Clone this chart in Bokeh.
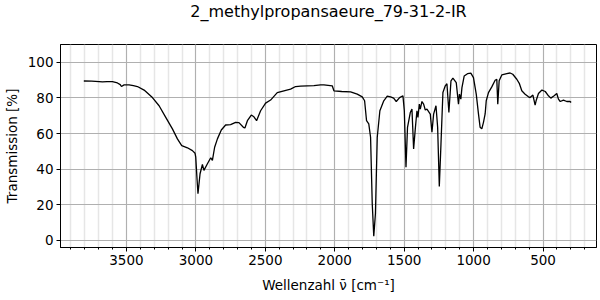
from bokeh.plotting import figure
from bokeh.models import Range1d, SingleIntervalTicker, FixedTicker, Title
from bokeh.embed import file_html
from bokeh.resources import INLINE

title_text = "2_methylpropansaeure_79-31-2-IR"
x_label = "Wellenzahl ν̄ [cm⁻¹]"
y_label = "Transmission [%]"

wavenumber = [3807, 3750, 3697, 3673, 3640, 3601, 3565, 3545, 3536, 3517, 3481, 3450, 3421, 3373,
              3313, 3265, 3217, 3169, 3133, 3102, 3061, 3025, 3006, 3001, 2993, 2985, 2970, 2953,
              2942, 2917, 2893, 2881, 2865, 2845, 2817, 2786, 2750, 2714, 2690, 2658, 2647, 2629,
              2601, 2582, 2563, 2534, 2498, 2462, 2414, 2366, 2318, 2282, 2246, 2198, 2150, 2102,
              2078, 2018, 2006, 1950, 1886, 1838, 1802, 1785, 1771, 1755, 1742, 1730, 1719, 1707,
              1694, 1675, 1647, 1622, 1598, 1576, 1557, 1533, 1509, 1499, 1487, 1476, 1456, 1444,
              1432, 1420, 1408, 1401, 1391, 1384, 1372, 1360, 1348, 1336, 1312, 1300, 1288, 1271,
              1259, 1247, 1235, 1221, 1204, 1192, 1178, 1163, 1149, 1125, 1109, 1102, 1092, 1084,
              1068, 1044, 1020, 1001, 981, 965, 953, 941, 929, 917, 909, 893, 869, 845, 833, 826,
              816, 797, 761, 737, 718, 689, 670, 653, 629, 605, 593, 573, 557, 550, 533, 508, 484,
              461, 444, 420, 401, 389, 376, 353, 329, 305, 298]
transmission = [89.5, 89.4, 89.2, 89.0, 89.2, 89.2, 88.4, 87.5, 86.4, 87.3, 87.3, 86.9, 86.4, 84.4,
                80.2, 75.6, 69.1, 62.6, 57.0, 53.2, 52.0, 50.4, 48.9, 46.7, 36.0, 26.2, 37.4, 42.6,
                39.3, 43.0, 46.4, 44.9, 52.3, 57.0, 62.0, 64.8, 65.0, 66.3, 66.1, 63.5, 63.1, 67.2,
                70.4, 69.4, 67.2, 72.8, 77.1, 78.8, 83.0, 84.0, 84.9, 86.4, 86.6, 86.8, 86.9, 87.3,
                87.3, 86.8, 84.0, 83.6, 83.4, 82.1, 80.6, 78.4, 67.2, 65.4, 57.9, 20.7, 2.4, 15.1,
                57.9, 72.8, 78.4, 81.0, 80.6, 79.9, 78.0, 80.2, 81.2, 72.8, 41.1, 63.5, 71.8, 73.7,
                51.4, 62.6, 72.8, 69.1, 76.5, 73.7, 78.0, 76.5, 73.2, 73.7, 70.9, 60.7, 70.9, 75.6,
                63.5, 30.3, 54.2, 83.0, 86.8, 88.0, 71.8, 89.6, 91.1, 88.6, 76.5, 82.1, 79.3, 85.8,
                92.3, 93.6, 93.9, 91.4, 82.1, 71.0, 63.5, 62.6, 66.3, 71.0, 78.4, 83.0, 86.2, 89.9,
                90.5, 76.5, 89.6, 92.9, 93.6, 94.0, 93.3, 90.5, 88.0, 84.0, 82.1, 80.6, 80.2, 81.6,
                76.0, 78.4, 82.5, 84.4, 83.6, 81.2, 79.9, 81.2, 82.5, 79.3, 78.0, 78.8, 78.0, 78.0,
                77.4]
y_ticks = [0, 20, 40, 60, 80, 100]

FONT = "DejaVu Sans"

p = figure(width=600, height=300, output_backend="svg", toolbar_location=None,
           x_range=Range1d(3975, 115), y_range=Range1d(-4, 110),
           min_border_left=60, min_border_right=4, min_border_top=43, min_border_bottom=53)
p.background_fill_color = "white"
p.border_fill_color = "white"
p.outline_line_color = "black"
p.outline_line_width = 1

spacer = Title(text=" ", text_font_size="1px", standoff=18)
p.add_layout(spacer, "above")
main_title = Title(text=title_text, align="center", vertical_align="top", text_font=FONT,
                   text_font_size="16px", text_font_style="normal", text_color="black", standoff=2)
p.add_layout(main_title, "above")

p.xaxis.ticker = SingleIntervalTicker(interval=500, num_minor_ticks=5)
p.yaxis.ticker = FixedTicker(ticks=y_ticks)

for ax in (p.xaxis, p.yaxis):
    ax.axis_line_color = "black"
    ax.major_tick_line_color = "black"
    ax.minor_tick_line_color = "black"
    ax.major_tick_in = 0
    ax.major_tick_out = 4
    ax.minor_tick_in = 0
    ax.minor_tick_out = 2
    ax.major_label_text_font = FONT
    ax.major_label_text_font_size = "13.5px"
    ax.major_label_text_color = "black"
    ax.axis_label_text_font = FONT
    ax.axis_label_text_font_size = "13.5px"
    ax.axis_label_text_font_style = "normal"
    ax.axis_label_text_color = "black"
    ax.major_label_standoff = 3
p.xaxis.axis_label_standoff = 9
p.yaxis.axis_label_standoff = 5
p.yaxis.minor_tick_line_color = None
p.xaxis.axis_label = x_label
p.yaxis.axis_label = y_label

p.xgrid.grid_line_color = "#b0b0b0"
p.xgrid.grid_line_width = 1
p.xgrid.minor_grid_line_color = "#e6e6e6"
p.xgrid.minor_grid_line_width = 1.5
p.ygrid.grid_line_color = "#b0b0b0"
p.ygrid.grid_line_width = 1

p.line(wavenumber, transmission, line_color="black", line_width=1.3)

open("out.html", "w").write(file_html(p, INLINE))
